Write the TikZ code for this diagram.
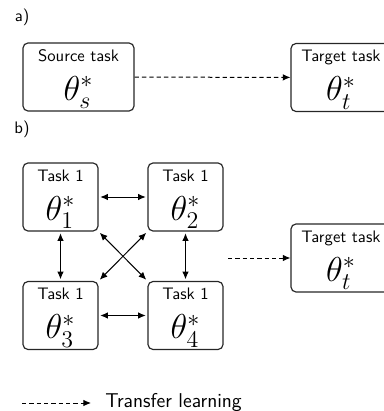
\documentclass[tikz,border=0pt]{standalone}
\usepackage{amsmath}
\usetikzlibrary{arrows.meta,positioning,calc}

\tikzset{
  taskbox/.style={draw=black!85,line width=0.7pt,rounded corners=3pt,
    minimum height=40.8pt,inner sep=0pt},
  tasktitle/.style={font=\sffamily,anchor=north,inner sep=0pt,yshift=-4.2pt},
  taskparam/.style={font=\huge,anchor=base,inner sep=0pt,yshift=6.8pt},
  transfer/.style={->,line width=0.6pt,dash pattern=on 2.6pt off 1.8pt},
}

\begin{document}
\begin{tikzpicture}[x=0.6pt,y=-0.6pt,>={Latex[length=4.6pt,width=4pt]}]
                  \useasboundingbox (0,0) rectangle (384,411);

                  % Part a: one source, one target.
                  \node[font=\sffamily] (pa) at (22,17) {a)};
                  \node[taskbox,minimum width=66.6pt,
                        label={[tasktitle]north:Source task},
                        label={[taskparam]south:$\theta^*_s$}]
                      (src) at (78.5,77) {};
                  \node[taskbox,minimum width=60pt,
                        label={[tasktitle]north:Target task},
                        label={[taskparam]south:$\theta^*_t$}]
                      (tgta) at (341,77.5) {};
                  \draw[transfer] (src) -- (tgta);

                  % Part b: four tasks, all linked to one another.
                  \node[font=\sffamily] (pb) at (22,129) {b)};
                  \foreach \i/\x/\y in {
                      1/60.5/197,
                      2/185.5/197,
                      3/60.5/315.5,
                      4/185.5/315.5%
                  }{
                      \node[taskbox,minimum width=45pt,
                            label={[tasktitle]north:Task 1},
                            label={[taskparam]south:$\theta^*_{\i}$}]
                          (t\i) at (\x,\y) {};
                  }
                  \foreach \a/\b in {
                      t1.east/t2.west,
                      t3.east/t4.west,
                      t1.south/t3.north,
                      t2.south/t4.north,
                      t1.south east/t4.north west,
                      t2.south west/t3.north east%
                  }{
                      \draw[<->,line width=0.6pt,shorten <=1pt,shorten >=1pt]
                          (\a) -- (\b);
                  }

                  \node[taskbox,minimum width=60pt,
                        label={[tasktitle]north:Target task},
                        label={[taskparam]south:$\theta^*_t$}]
                      (tgtb) at (341,258) {};
                  \coordinate (from) at (228,258);
                  \draw[transfer] (from) -- (tgtb);

                  % Legend.
                  \coordinate (leg) at (22,403);
                  \node[font=\sffamily\large,anchor=west,inner sep=0pt]
                      (legtext) at (105,403) {Transfer learning};
                  \draw[transfer] (leg) -- ($(legtext.west)+(-14,0)$);
                \end{tikzpicture}
\end{document}
